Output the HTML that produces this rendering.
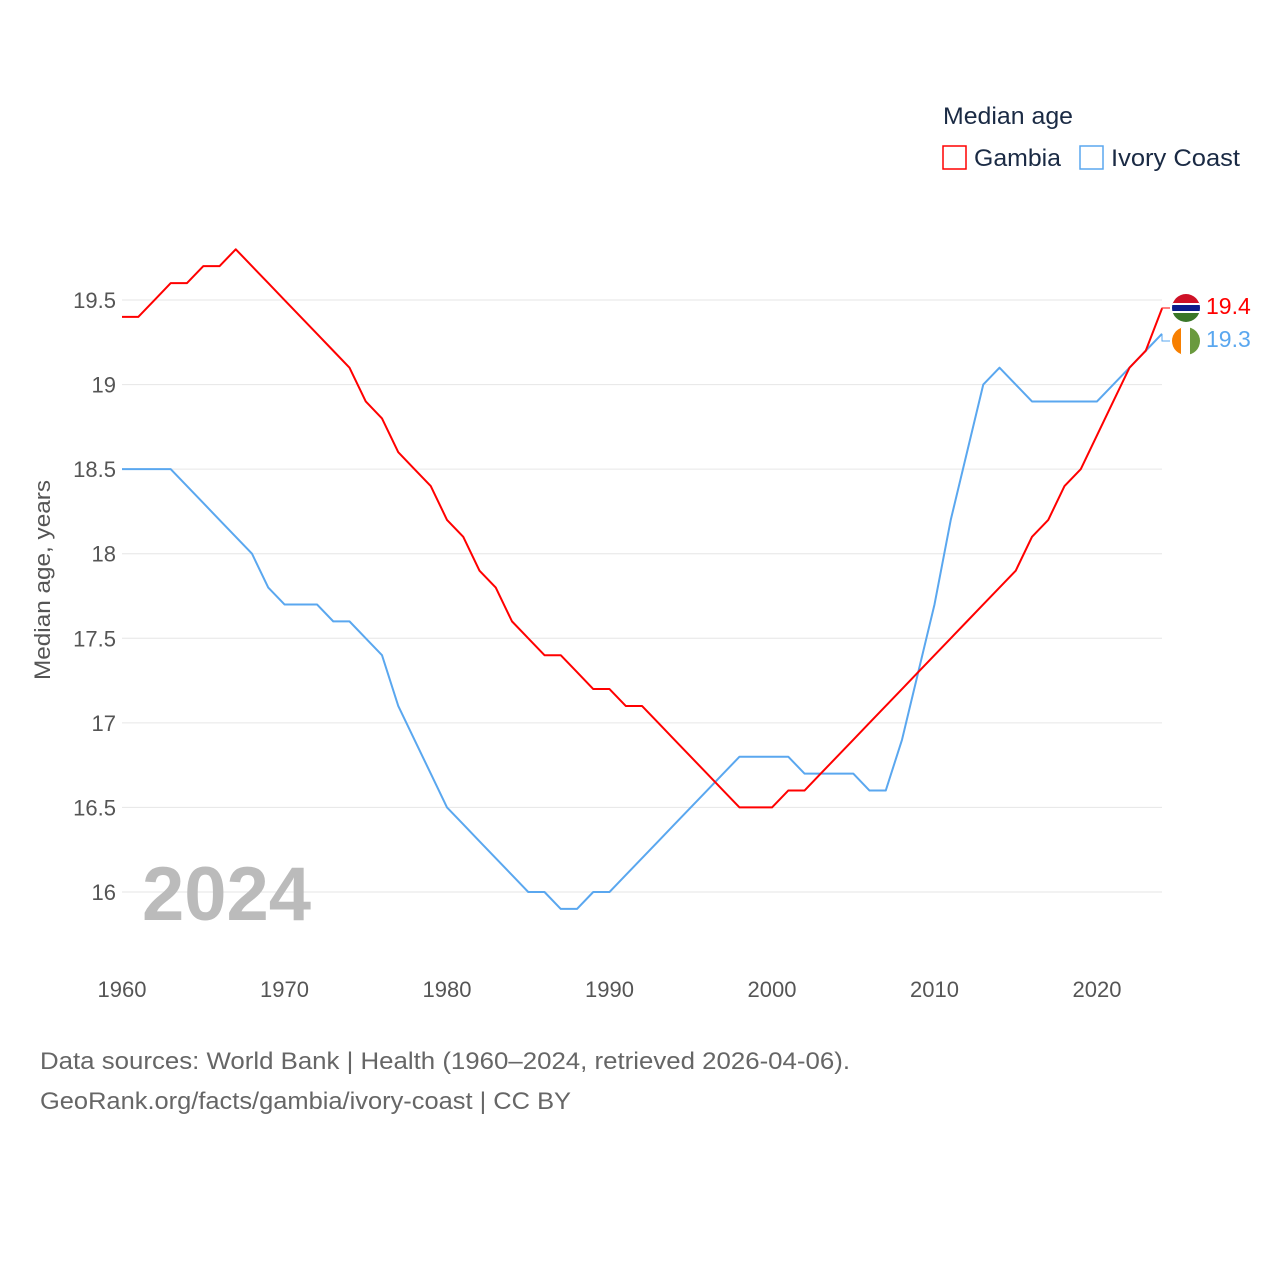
<!DOCTYPE html>
<html><head><meta charset="utf-8"><style>
body{margin:0;background:#fff;font-family:"Liberation Sans",sans-serif}
svg text{font-family:"Liberation Sans",sans-serif}
</style></head><body>
<svg width="1280" height="1280">
<g id="grid"></g>
<g id="yticks"></g>
<g id="xticks"></g>
<text x="50" y="580" transform="rotate(-90 50 580)" text-anchor="middle" font-size="22" fill="#555" textLength="200" lengthAdjust="spacingAndGlyphs">Median age, years</text>
<text x="142" y="920" font-size="76" font-weight="bold" fill="#bbb">2024</text>
<g id="series"></g>
<text x="943" y="124" font-size="24" fill="#1a2a44" textLength="130" lengthAdjust="spacingAndGlyphs">Median age</text>
<g><rect x="943" y="146" width="23" height="23" fill="none" stroke="#f00" stroke-width="1.5"/><text x="974" y="166" font-size="24" fill="#1a2a44" textLength="87" lengthAdjust="spacingAndGlyphs">Gambia</text></g>
<g><rect x="1080" y="146" width="23" height="23" fill="none" stroke="#5aa7ef" stroke-width="1.5"/><text x="1111" y="166" font-size="24" fill="#1a2a44" textLength="129" lengthAdjust="spacingAndGlyphs">Ivory Coast</text></g>
<defs>
<clipPath id="c1"><circle cx="1186" cy="308" r="14"/></clipPath>
<clipPath id="c2"><circle cx="1186" cy="341" r="14"/></clipPath>
</defs>
<g clip-path="url(#c1)">
<rect x="1172" y="294" width="28" height="10" fill="#ce1126"/><rect x="1172" y="303" width="28" height="2" fill="#fff"/><rect x="1172" y="305" width="28" height="6" fill="#0c1c8c"/><rect x="1172" y="311" width="28" height="2" fill="#fff"/><rect x="1172" y="313" width="28" height="10" fill="#3a7728"/></g>
<g clip-path="url(#c2)">
<rect x="1172" y="327" width="10" height="28" fill="#f77f00"/><rect x="1181" y="327" width="10" height="28" fill="#fff"/><rect x="1190" y="327" width="10" height="28" fill="#6a9a3e"/></g>
<text x="1206" y="314" font-size="23" fill="#f00">19.4</text>
<text x="1206" y="347" font-size="23" fill="#5aa7ef">19.3</text>
<text x="40" y="1069" font-size="24" fill="#666" textLength="810" lengthAdjust="spacingAndGlyphs">Data sources: World Bank | Health (1960–2024, retrieved 2026-04-06).</text>
<text x="40" y="1109" font-size="24" fill="#666" textLength="531" lengthAdjust="spacingAndGlyphs">GeoRank.org/facts/gambia/ivory-coast | CC BY</text>
</svg>
<script>
const years=[];for(let y=1960;y<=2024;y++)years.push(y);
const gambia=[19.4,19.4,19.5,19.6,19.6,19.7,19.7,19.8,19.7,19.6,19.5,19.4,19.3,19.2,19.1,18.9,18.8,18.6,18.5,18.4,18.2,18.1,17.9,17.8,17.6,17.5,17.4,17.4,17.3,17.2,17.2,17.1,17.1,17.0,16.9,16.8,16.7,16.6,16.5,16.5,16.5,16.6,16.6,16.7,16.8,16.9,17.0,17.1,17.2,17.3,17.4,17.5,17.6,17.7,17.8,17.9,18.1,18.2,18.4,18.5,18.7,18.9,19.1,19.2,19.45];
const ivory=[18.5,18.5,18.5,18.5,18.4,18.3,18.2,18.1,18.0,17.8,17.7,17.7,17.7,17.6,17.6,17.5,17.4,17.1,16.9,16.7,16.5,16.4,16.3,16.2,16.1,16.0,16.0,15.9,15.9,16.0,16.0,16.1,16.2,16.3,16.4,16.5,16.6,16.7,16.8,16.8,16.8,16.8,16.7,16.7,16.7,16.7,16.6,16.6,16.9,17.3,17.7,18.2,18.6,19.0,19.1,19.0,18.9,18.9,18.9,18.9,18.9,19.0,19.1,19.2,19.3];
const yTicks=[16,16.5,17,17.5,18,18.5,19,19.5];
const yTickLabels=["16","16.5","17","17.5","18","18.5","19","19.5"];
const xTicks=[1960,1970,1980,1990,2000,2010,2020];
const X=v=>122+(v-1960)*16.25;
const Y=v=>892-(v-16)*169.14;
const NS="http://www.w3.org/2000/svg";
function mk(t,a,p){const e=document.createElementNS(NS,t);for(const k in a)e.setAttribute(k,a[k]);p.appendChild(e);return e;}
const grid=document.getElementById('grid'),yt=document.getElementById('yticks'),xt=document.getElementById('xticks'),ser=document.getElementById('series');
yTicks.forEach((v,i)=>{
const l=mk('line',{x1:122,x2:1162,y1:Y(v),y2:Y(v),stroke:'#e6e6e6','stroke-width':1},grid);


const t=mk('text',{x:116,y:Y(v)+8,'text-anchor':'end','font-size':22,fill:'#555'},yt);t.textContent=yTickLabels[i];


});
xTicks.forEach(v=>{
const t=mk('text',{x:X(v),y:997,'text-anchor':'middle','font-size':22,fill:'#555'},xt);t.textContent=v;


});
function line(d,c,n){
const p=mk('polyline',{points:d.map((v,i)=>X(years[i])+','+Y(v)).join(' '),fill:'none',stroke:c,'stroke-width':2,'stroke-linejoin':'round'},ser);


}
line(ivory,'#5aa7ef','ivory-coast-line');
line(gambia,'#f00','gambia-line');
const gx=X(2024),gy=Y(gambia[gambia.length-1]),iy=Y(ivory[ivory.length-1]);
let c=mk('polyline',{points:`${gx},${gy} ${gx},308 1170,308`,fill:'none',stroke:'#f00','stroke-width':1},ser);


c=mk('polyline',{points:`${gx},${iy} ${gx},341 1170,341`,fill:'none',stroke:'#5aa7ef','stroke-width':1},ser);


</script>
</body></html>
